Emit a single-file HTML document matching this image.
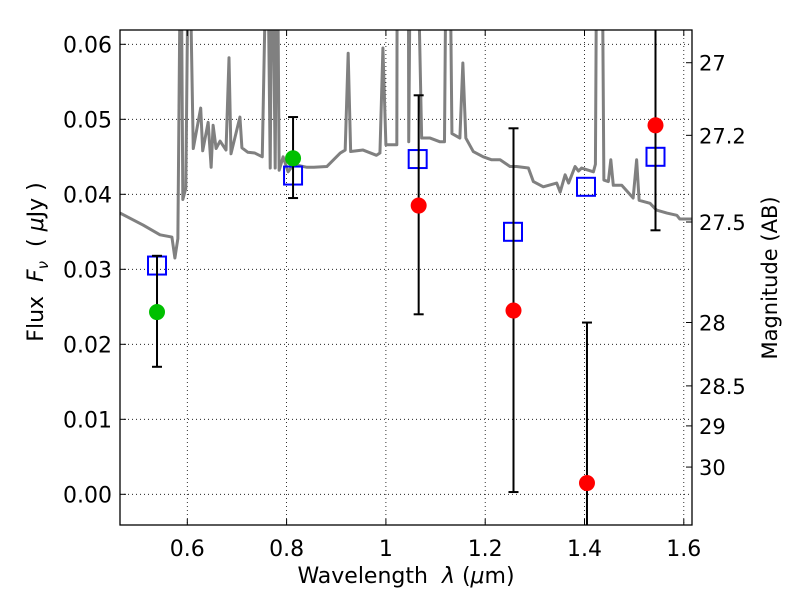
<!DOCTYPE html>
<html><head><meta charset="utf-8"><style>
html,body{margin:0;padding:0;background:#fff;}
svg{display:block;font-family:"DejaVu Sans","Liberation Sans",sans-serif;}
</style></head><body>
<svg id="chart" width="800" height="600" xmlns="http://www.w3.org/2000/svg">
<defs><clipPath id="clip"><rect x="120" y="30" width="572" height="495"/></clipPath></defs>
<rect width="800" height="600" fill="#fff"/>
<g id="grid"></g>
<g id="spec" clip-path="url(#clip)"></g>
<g id="marks" clip-path="url(#clip)"></g>
<rect x="120" y="30" width="572" height="495" fill="none" stroke="#000" stroke-width="1.3"/>
<g id="axes"></g>
<text x="406" y="583" font-size="22" text-anchor="middle">Wavelength&#160;&#160;<tspan font-style="italic">λ</tspan>&#160;(<tspan font-style="italic">μ</tspan>m)</text>
<text transform="translate(43,262) rotate(-90)" font-size="22" text-anchor="middle">Flux&#160;&#160;<tspan font-style="italic">F</tspan><tspan font-style="italic" font-size="15" dy="5">ν</tspan><tspan dy="-5">&#160;&#160;(&#160;</tspan><tspan font-style="italic">μ</tspan>Jy&#160;)</text>
<text transform="translate(777,278) rotate(-90)" font-size="21" text-anchor="middle">Magnitude (AB)</text>
</svg>
<script>
const specLam=[0.4646,0.511,0.545,0.569,0.575,0.581,0.587,0.591,0.597,0.603,0.612,0.627,0.631,0.642,0.648,0.652,0.658,0.666,0.678,0.684,0.688,0.706,0.710,0.722,0.736,0.751,0.761,0.767,0.771,0.777,0.781,0.785,0.793,0.803,0.813,0.827,0.841,0.855,0.881,0.908,0.918,0.924,0.929,0.954,0.981,0.988,0.994,1.0,1.022,1.023,1.045,1.046,1.050,1.056,1.062,1.072,1.089,1.109,1.118,1.122,1.128,1.133,1.149,1.155,1.161,1.176,1.196,1.213,1.230,1.250,1.263,1.287,1.297,1.317,1.344,1.351,1.361,1.368,1.381,1.388,1.394,1.418,1.422,1.425,1.435,1.439,1.448,1.453,1.458,1.475,1.498,1.505,1.510,1.532,1.545,1.566,1.586,1.592,1.62];
const specFlux=[0.0375,0.0359,0.0346,0.0343,0.0315,0.0341,0.08,0.0393,0.0408,0.08,0.0461,0.0515,0.0458,0.0496,0.0436,0.0492,0.0461,0.0471,0.0459,0.0582,0.0454,0.0503,0.0462,0.0456,0.0455,0.0450,0.08,0.0435,0.08,0.0435,0.08,0.0432,0.0450,0.0430,0.0439,0.0438,0.0436,0.0436,0.0437,0.0455,0.0459,0.0588,0.0457,0.0459,0.0452,0.0455,0.0595,0.0466,0.0466,0.08,0.08,0.0470,0.08,0.08,0.08,0.0475,0.0475,0.0470,0.0470,0.08,0.08,0.0481,0.0475,0.0575,0.0475,0.0457,0.0450,0.0446,0.0446,0.0437,0.0437,0.0435,0.0417,0.0410,0.0415,0.0403,0.0426,0.0415,0.0437,0.0431,0.0435,0.0430,0.0440,0.08,0.08,0.0419,0.0417,0.0446,0.0412,0.0412,0.0395,0.0446,0.0392,0.0388,0.0379,0.0375,0.0372,0.0367,0.0367];
const greenLam=[0.539,0.813];
const greenFlux=[0.0243,0.0448];
const greenLo=[0.0170,0.0395];
const greenHi=[0.0318,0.0503];
const redLam=[1.066,1.257,1.405,1.543];
const redFlux=[0.0385,0.0245,0.0015,0.0492];
const redLo=[0.0240,0.0003,-0.006,0.0352];
const redHi=[0.0532,0.0488,0.0229,0.07];
const modelLam=[0.539,0.813,1.064,1.256,1.403,1.543];
const modelFlux=[0.0305,0.0425,0.0447,0.0350,0.0410,0.0450];
const xTicks=[0.6,0.8,1.0,1.2,1.4,1.6];
const xTickLabels=["0.6","0.8","1","1.2","1.4","1.6"];
const yTicks=[0,0.01,0.02,0.03,0.04,0.05,0.06];
const yTickLabels=["0.00","0.01","0.02","0.03","0.04","0.05","0.06"];
const magTicks=[27,27.2,27.5,28,28.5,29,30];
const magTickLabels=["27","27.2","27.5","28","28.5","29","30"];

const NS="http://www.w3.org/2000/svg";
const X=v=>187.3+(v-0.6)*496.5;
const Y=v=>494.3-v*7500;
const magToFlux=m=>Math.pow(10,(23.9-m)/2.5);
function mk(p,tag,a){const e=document.createElementNS(NS,tag);for(const k in a)e.setAttribute(k,a[k]);p.appendChild(e);return e;}
const grid=document.getElementById('grid'),axes=document.getElementById('axes'),spec=document.getElementById('spec'),marks=document.getElementById('marks');

xTicks.forEach((t,i)=>{
  const g=mk(grid,'line',{x1:X(t),x2:X(t),y1:30,y2:525,stroke:'#000','stroke-width':0.8,'stroke-dasharray':'1,3'});
  
  
  mk(axes,'line',{x1:X(t),x2:X(t),y1:525,y2:519,stroke:'#000'});
  mk(axes,'line',{x1:X(t),x2:X(t),y1:30,y2:36,stroke:'#000'});
  const tx=mk(axes,'text',{x:X(t),y:556,'font-size':22,'text-anchor':'middle'});
  tx.textContent=xTickLabels[i];
  
  
});
yTicks.forEach((t,i)=>{
  const g=mk(grid,'line',{x1:120,x2:692,y1:Y(t),y2:Y(t),stroke:'#000','stroke-width':0.8,'stroke-dasharray':'1,3'});
  
  
  mk(axes,'line',{x1:120,x2:126,y1:Y(t),y2:Y(t),stroke:'#000'});
  const tx=mk(axes,'text',{x:112,y:Y(t)+8,'font-size':22,'text-anchor':'end'});
  tx.textContent=yTickLabels[i];
  
  
});
magTicks.forEach((m,i)=>{
  const y=Y(magToFlux(m));
  mk(axes,'line',{x1:686,x2:692,y1:y,y2:y,stroke:'#000'});
  const tx=mk(axes,'text',{x:699,y:y+8,'font-size':21});
  tx.textContent=magTickLabels[i];
  
  
});

const pl=mk(spec,'polyline',{points:specLam.map((l,i)=>X(l)+','+Y(specFlux[i])).join(' '),fill:'none',stroke:'#808080','stroke-width':3,'stroke-linejoin':'round'});



function errbar(l,lo,hi){
  const x=X(l);
  mk(marks,'line',{x1:x,x2:x,y1:Y(lo),y2:Y(hi),stroke:'#000','stroke-width':2});
  mk(marks,'line',{x1:x-5,x2:x+5,y1:Y(lo),y2:Y(lo),stroke:'#000','stroke-width':2});
  mk(marks,'line',{x1:x-5,x2:x+5,y1:Y(hi),y2:Y(hi),stroke:'#000','stroke-width':2});
}
modelLam.forEach((l,i)=>{
  const r=mk(marks,'rect',{x:X(l)-9,y:Y(modelFlux[i])-9,width:18,height:18,fill:'none',stroke:'#0000ff','stroke-width':2});
  
  
});
greenLam.forEach((l,i)=>{
  errbar(l,greenLo[i],greenHi[i]);
  const c=mk(marks,'circle',{cx:X(l),cy:Y(greenFlux[i]),r:8,fill:'#00c000'});
  
  
});
redLam.forEach((l,i)=>{
  errbar(l,redLo[i],redHi[i]);
  const c=mk(marks,'circle',{cx:X(l),cy:Y(redFlux[i]),r:8,fill:'#ff0000'});
  
  
});
</script>
</body></html>
